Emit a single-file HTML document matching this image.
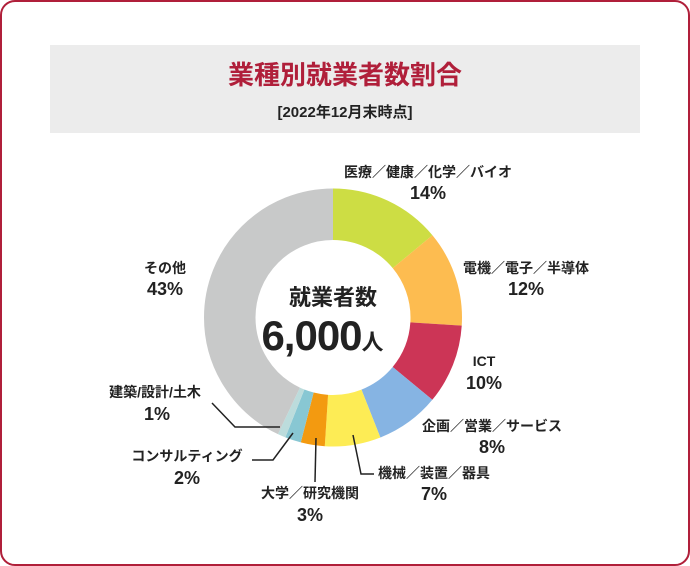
<!DOCTYPE html>
<html><head><meta charset="utf-8"><style>
html,body{margin:0;padding:0;background:#fff;}
body{width:690px;height:566px;overflow:hidden;font-family:"Liberation Sans","Noto Sans CJK JP",sans-serif;}
</style></head><body>
<svg width="690" height="566" xmlns="http://www.w3.org/2000/svg" style="position:absolute;left:0;top:0;font-family:'Liberation Sans','Noto Sans CJK JP',sans-serif;">
<rect x="1" y="1" width="688" height="564" rx="14" fill="#fff" stroke="#b01f3a" stroke-width="2"/>
<rect x="50" y="45" width="590" height="88" fill="#ececec"/>
<text x="345" y="84" text-anchor="middle" font-size="26" font-weight="bold" fill="#b01f3a">業種別就業者数割合</text>
<text x="345" y="117" text-anchor="middle" font-size="15" font-weight="bold" fill="#222">[2022年12月末時点]</text>
<g transform="rotate(-90 333 317.5)" fill="none" stroke-width="51.5">
<circle cx="333" cy="317.5" r="103.25" stroke="#cddd44" stroke-dasharray="90.82 648.74" stroke-dashoffset="0"/>
<circle cx="333" cy="317.5" r="103.25" stroke="#fdbc50" stroke-dasharray="77.85 648.74" stroke-dashoffset="-90.82"/>
<circle cx="333" cy="317.5" r="103.25" stroke="#cc3556" stroke-dasharray="64.87 648.74" stroke-dashoffset="-168.67"/>
<circle cx="333" cy="317.5" r="103.25" stroke="#86b4e3" stroke-dasharray="51.90 648.74" stroke-dashoffset="-233.54"/>
<circle cx="333" cy="317.5" r="103.25" stroke="#fdec55" stroke-dasharray="45.41 648.74" stroke-dashoffset="-285.44"/>
<circle cx="333" cy="317.5" r="103.25" stroke="#f39a10" stroke-dasharray="19.46 648.74" stroke-dashoffset="-330.85"/>
<circle cx="333" cy="317.5" r="103.25" stroke="#88c7d3" stroke-dasharray="12.97 648.74" stroke-dashoffset="-350.31"/>
<circle cx="333" cy="317.5" r="103.25" stroke="#bcdcdc" stroke-dasharray="6.49 648.74" stroke-dashoffset="-363.29"/>
<circle cx="333" cy="317.5" r="103.25" stroke="#c8c9c9" stroke-dasharray="278.96 648.74" stroke-dashoffset="-369.77"/>
</g>
<g fill="none" stroke="#222" stroke-width="1.5">
<polyline points="212,403 235,427 280,427"/>
<polyline points="252,460 273,460 293,433"/>
<polyline points="316,438 315,482"/>
<polyline points="353,435 361,474 374,474"/>
</g>
<g fill="#222" font-weight="bold" text-anchor="middle">
<text x="333" y="305" font-size="22">就業者数</text>
<text x="322" y="350" font-size="42" letter-spacing="-1">6,000<tspan font-size="22">人</tspan></text>
<g font-size="14">
<text x="428" y="177">医療／健康／化学／バイオ</text>
<text x="526" y="273">電機／電子／半導体</text>
<text x="484" y="366">ICT</text>
<text x="492" y="431">企画／営業／サービス</text>
<text x="434" y="478">機械／装置／器具</text>
<text x="310" y="498">大学／研究機関</text>
<text x="187" y="461">コンサルティング</text>
<text x="155" y="397">建築/設計/土木</text>
<text x="165" y="273">その他</text>
</g>
<g font-size="18">
<text x="428" y="199">14%</text>
<text x="526" y="295">12%</text>
<text x="484" y="389">10%</text>
<text x="492" y="453">8%</text>
<text x="434" y="500">7%</text>
<text x="310" y="521">3%</text>
<text x="187" y="484">2%</text>
<text x="157" y="420">1%</text>
<text x="165" y="295">43%</text>
</g>
</g>
</svg>
</body></html>
